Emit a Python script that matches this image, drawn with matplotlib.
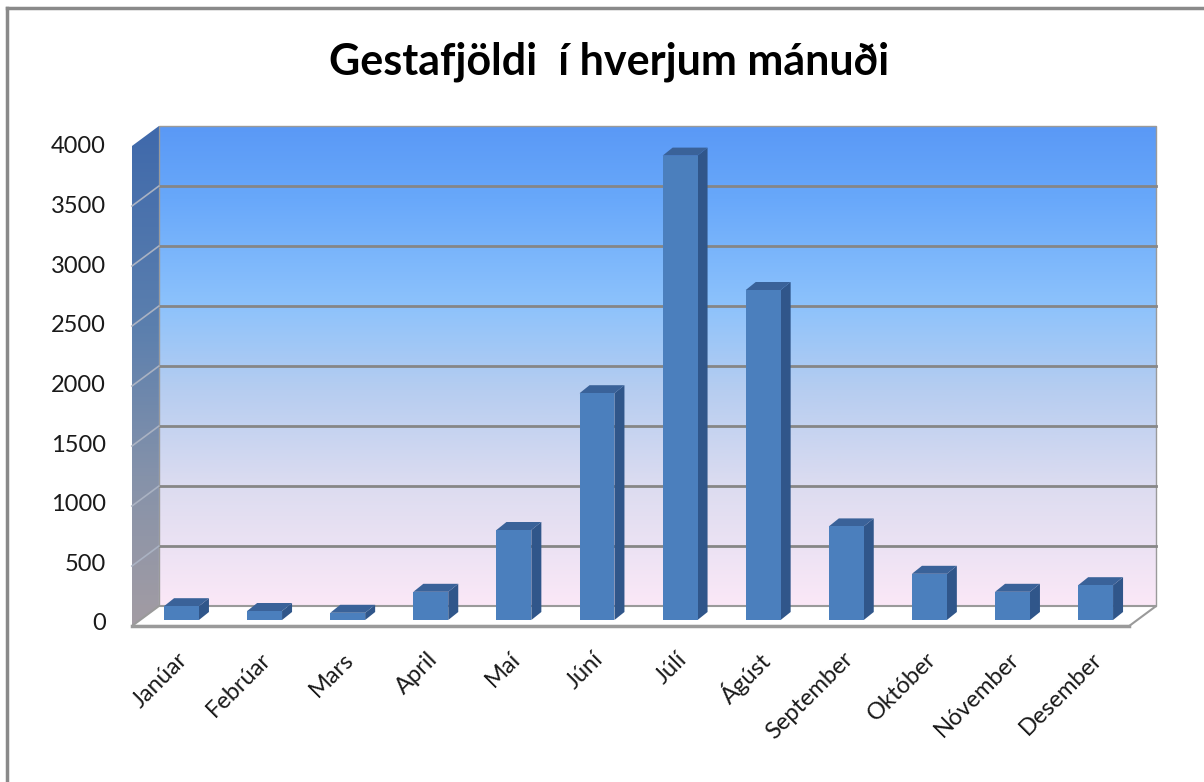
import numpy as np
import matplotlib
matplotlib.use("Agg")
import matplotlib.pyplot as plt
from matplotlib.colors import LinearSegmentedColormap
from matplotlib.patches import Polygon
from matplotlib.lines import Line2D

plt.rcParams["font.family"] = ["Lato", "DejaVu Sans"]

# data
months = ["Janúar", "Febrúar", "Mars", "April", "Maí", "Júní",
          "Júlí", "Ágúst", "September", "Október", "Nóvember", "Desember"]
visitors = [115, 75, 60, 235, 750, 1890, 3870, 2750, 780, 385, 235, 290]
yticks = [0, 500, 1000, 1500, 2000, 2500, 3000, 3500, 4000]
title = "Gestafjöldi  í hverjum mánuði"

# pixel scale of the bar plane (px per category, px per visitor)
PX_X = 83.1
PX_Y = 0.12
X0, Y0 = 181.5, 620.0          # pixel position of category 0, value 0
W, H = 1204, 782

def dx(px):
    return px / PX_X

def dy(px):
    return px / PX_Y

fig = plt.figure(figsize=(W / 100, H / 100), dpi=100)
ax = fig.add_axes([0, 0, 1, 1])
ax.set_axis_off()
xlim = (-X0 / PX_X, (W - X0) / PX_X)
ylim = ((Y0 - H) / PX_Y, Y0 / PX_Y)

x = np.arange(len(months))
lo, hi = -0.5, len(months) - 0.5
top = yticks[-1]

# depth offsets of back wall and front edge relative to the bar plane
bdx, bdy = dx(19), dy(14)
fdx, fdy = dx(-8), dy(-6)

# back wall gradient
wall_cmap = LinearSegmentedColormap.from_list(
    "wall", [(0.0, "#fbe8f7"), (0.25, "#dcdcf0"), (0.45, "#b6cdf0"),
             (0.63, "#8cc2fc"), (0.85, "#68a8fa"), (1.0, "#5a99f6")])
grad = np.linspace(0, 1, 256).reshape(-1, 1)
ax.imshow(grad, cmap=wall_cmap, origin="lower", aspect="auto",
          extent=[lo + bdx, hi + bdx, bdy, top + bdy], zorder=1)
ax.add_patch(Polygon([(lo + bdx, bdy), (hi + bdx, bdy), (hi + bdx, top + bdy),
                      (lo + bdx, top + bdy)], closed=True, fill=False,
                     edgecolor="#9a9a9a", lw=1, zorder=2))

# left wall
side_cmap = LinearSegmentedColormap.from_list(
    "side", [(0.0, "#a39ca3"), (0.3, "#8592aa"), (0.6, "#5b7fae"), (1.0, "#3f69ab")])
left_wall = Polygon([(lo + fdx, fdy), (lo + bdx, bdy), (lo + bdx, top + bdy),
                     (lo + fdx, top + fdy)], closed=True, facecolor="none",
                    edgecolor="none", zorder=3)
ax.add_patch(left_wall)
im = ax.imshow(grad, cmap=side_cmap, origin="lower", aspect="auto",
               extent=[lo + fdx, lo + bdx, fdy, top + bdy], zorder=3)
im.set_clip_path(left_wall)

# gridlines on back and left walls
for t in yticks[1:-1]:
    ax.plot([lo + bdx, hi + bdx], [t + bdy, t + bdy], color="#868686", lw=2, zorder=2)
    ax.plot([lo + fdx, lo + bdx], [t + fdy, t + bdy], color="#aab2c2", lw=1.2, zorder=4)

# floor
ax.add_patch(Polygon([(lo + fdx, fdy), (hi + fdx, fdy), (hi + bdx, bdy),
                      (lo + bdx, bdy)], closed=True, facecolor="white",
                     edgecolor="#9a9a9a", lw=1.5, zorder=4))
ax.plot([lo + fdx, hi + fdx], [fdy, fdy], color="#9a9a9a", lw=2.5, zorder=4)

# bars: front face, side face, top face
bw = 0.42
ddx, ddy = dx(10), dy(8)
ax.bar(x, visitors, width=bw, color="#4b7fbd", edgecolor="none", zorder=6)
for xi, v in zip(x, visitors):
    r = xi + bw / 2
    l = xi - bw / 2
    ax.add_patch(Polygon([(r, 0), (r + ddx, ddy), (r + ddx, v + ddy), (r, v)],
                         closed=True, facecolor="#30568a", edgecolor="none", zorder=5))
    ax.add_patch(Polygon([(l, v), (r, v), (r + ddx, v + ddy), (l + ddx, v + ddy)],
                         closed=True, facecolor="#3a6299", edgecolor="none", zorder=5))

# value axis labels on the front edge
for t in yticks:
    ax.text(lo + fdx - dx(26), t * 0.994 + dy(-4), str(t), ha="right", va="center",
            fontsize=17, color="#1a1a1a", zorder=7)

# category labels
for xi, m in zip(x, months):
    ax.text(xi + dx(3), dy(-36), m, ha="right", va="center", rotation=45,
            rotation_mode="anchor", fontsize=17, color="#1a1a1a", zorder=7)

ax.set_xlim(*xlim)
ax.set_ylim(*ylim)

fig.text(609 / W, 1 - 62 / H, title, ha="center", va="center",
         fontsize=31, fontweight="bold", color="black")

# chart frame (only top and left edges are inside the picture)
fig.add_artist(Line2D([7 / W, 7 / W], [0, 1 - 8 / H], color="#8a8a8a", lw=2.5))
fig.add_artist(Line2D([7 / W, 1], [1 - 8 / H, 1 - 8 / H], color="#8a8a8a", lw=2.5))

fig.savefig("out.png", dpi=100, facecolor="white")
